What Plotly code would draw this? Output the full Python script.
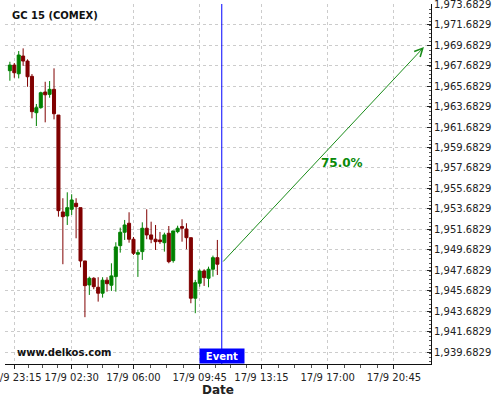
import plotly.graph_objects as go
import pandas as pd

# ---- data (15-minute candles) ----
candle_start = "2015-09-16 23:00"
open_ = [1967.18, 1967.73, 1966.88, 1968.61, 1968.12, 1966.63, 1963.08, 1963.57, 1965.10, 1964.87,
         1965.36, 1962.85, 1953.39, 1953.00, 1953.65, 1954.24, 1953.81, 1948.61, 1946.27, 1946.92,
         1946.04, 1945.46, 1946.73, 1946.24, 1947.08, 1950.10, 1951.41, 1952.29, 1950.73, 1949.26,
         1949.52, 1951.80, 1951.15, 1950.73, 1950.66, 1950.39, 1951.31, 1948.64, 1951.47, 1951.96,
         1951.73, 1950.88, 1944.97, 1946.43, 1947.63, 1946.92, 1947.80, 1948.93]
high_ = [1968.05, 1967.93, 1969.10, 1969.36, 1968.29, 1966.85, 1963.93, 1965.13, 1966.10, 1966.17,
         1967.41, 1962.85, 1954.73, 1955.31, 1955.12, 1954.73, 1953.81, 1948.61, 1947.08, 1947.02,
         1947.02, 1947.02, 1947.02, 1948.38, 1950.43, 1951.86, 1952.61, 1953.36, 1950.95, 1949.68,
         1952.38, 1953.65, 1952.44, 1952.12, 1951.44, 1951.37, 1952.02, 1951.54, 1952.05, 1952.68,
         1952.29, 1950.88, 1946.76, 1947.80, 1947.80, 1948.05, 1949.13, 1950.66]
low_ = [1966.20, 1966.49, 1966.43, 1967.66, 1965.61, 1962.53, 1961.78, 1963.47, 1962.14, 1964.54,
        1962.43, 1952.93, 1948.29, 1952.12, 1953.10, 1950.82, 1947.99, 1943.12, 1945.29, 1945.85,
        1944.64, 1945.03, 1945.61, 1945.68, 1945.61, 1949.42, 1950.66, 1950.39, 1949.19, 1947.05,
        1948.71, 1950.73, 1950.34, 1949.68, 1950.27, 1949.52, 1948.38, 1948.44, 1951.31, 1950.49,
        1949.75, 1944.48, 1943.51, 1946.10, 1946.17, 1946.04, 1947.08, 1947.24]
close_ = [1967.73, 1966.98, 1968.71, 1968.12, 1966.59, 1963.18, 1963.57, 1965.03, 1964.83, 1965.36,
          1962.98, 1953.52, 1952.93, 1953.81, 1954.56, 1953.91, 1948.61, 1946.20, 1946.92, 1946.10,
          1945.46, 1946.73, 1946.39, 1947.15, 1949.98, 1951.41, 1952.12, 1950.73, 1949.36, 1949.42,
          1951.80, 1951.15, 1950.73, 1950.49, 1950.49, 1951.15, 1948.54, 1951.54, 1951.80, 1951.80,
          1950.88, 1944.97, 1946.49, 1947.63, 1946.98, 1947.80, 1948.93, 1948.29]

tick_times = ["2015-09-16 23:15", "2015-09-17 02:30", "2015-09-17 06:00", "2015-09-17 09:45",
              "2015-09-17 13:15", "2015-09-17 17:00", "2015-09-17 20:45"]
tick_labels = ["17/9 23:15", "17/9 02:30", "17/9 06:00", "17/9 09:45",
               "17/9 13:15", "17/9 17:00", "17/9 20:45"]

event_time = "2015-09-17 11:00"
event_price = 1948.41
target_time = "2015-09-17 22:27"
target_price = 1969.49
prob_label = "75.0%"
prob_time = "2015-09-17 17:49"
prob_price = 1958.17

x_range = ["2015-09-16 22:43:24", "2015-09-17 22:51"]
y_range = [1938.55, 1973.69]
y_tick0 = 1939.6829

times = pd.date_range(candle_start, periods=len(open_), freq="15min")

# minor x ticks: quarter positions between major ticks
tt = pd.to_datetime(tick_times)
minor_x = []
for a, b in zip(tt[:-1], tt[1:]):
    for k in (1, 2, 3):
        minor_x.append(a + (b - a) * k / 4)
minor_x = [t.strftime("%Y-%m-%d %H:%M:%S") for t in minor_x]

FONT = "DejaVu Sans"
GREEN = "#008000"
RED = "#800000"
BLUE = "#0000ff"

fig = go.Figure()
fig.add_trace(go.Candlestick(
    x=times, open=open_, high=high_, low=low_, close=close_,
    increasing=dict(line=dict(color=GREEN, width=1), fillcolor=GREEN),
    decreasing=dict(line=dict(color=RED, width=1), fillcolor=RED),
    whiskerwidth=0, showlegend=False, hoverinfo="skip",
))

fig.add_shape(type="line", xref="x", yref="paper", x0=event_time, x1=event_time,
              y0=0, y1=1, line=dict(color=BLUE, width=1))

fig.add_annotation(x=target_time, y=target_price, ax=event_time, ay=event_price,
                   xref="x", yref="y", axref="x", ayref="y", text="",
                   showarrow=True, arrowhead=5, arrowsize=1.6, arrowwidth=1,
                   arrowcolor="#1a8c1a")
fig.add_annotation(x=prob_time, y=prob_price, xref="x", yref="y", text="<b>%s</b>" % prob_label,
                   showarrow=False, font=dict(family=FONT, size=12, color="#0a8a0a"))
fig.add_annotation(x=event_time, y=0, xref="x", yref="paper", yanchor="bottom",
                   text="<b>Event</b>", showarrow=False, bgcolor=BLUE, borderpad=0,
                   width=44, height=14, font=dict(family=FONT, size=10, color="white"))
fig.add_annotation(x=0.0117, y=0.969, xref="paper", yref="paper", xanchor="left",
                   yanchor="middle", text="<b>GC 15 (COMEX)</b>", showarrow=False,
                   font=dict(family=FONT, size=10, color="#111111"))
fig.add_annotation(x=0.0235, y=0.031, xref="paper", yref="paper", xanchor="left",
                   yanchor="middle", text="<b>www.delkos.com</b>", showarrow=False,
                   font=dict(family=FONT, size=10, color="#111111"))

fig.update_layout(
    width=500, height=400,
    margin=dict(l=5, r=69, t=4, b=36, autoexpand=False),
    paper_bgcolor="white", plot_bgcolor="white",
    font=dict(family=FONT, size=10, color="#222222"),
    showlegend=False, boxgap=0.02,
    xaxis=dict(
        type="date", range=x_range, rangeslider=dict(visible=False),
        automargin=False, ticklabeloverflow="allow",
        tickmode="array", tickvals=tick_times, ticktext=tick_labels,
        ticks="outside", ticklen=4, tickcolor="#222222",
        minor=dict(tickmode="array", tickvals=minor_x, ticks="outside", ticklen=3,
                   tickcolor="#555555", showgrid=False),
        showline=True, linecolor="#111111", linewidth=1,
        showgrid=True, gridcolor="#cccccc", griddash="3px,3px", gridwidth=1,
        zeroline=False,
        title=dict(text="<b>Date</b>", font=dict(family=FONT, size=12, color="#222222"),
                   standoff=2),
        tickfont=dict(family=FONT, size=10, color="#222222"),
    ),
    yaxis=dict(
        side="right", range=y_range, tickmode="linear", tick0=y_tick0, dtick=2,
        automargin=False, ticklabeloverflow="allow",
        tickformat=",.4f", ticks="inside", ticklen=4, tickcolor="#222222",
        minor=dict(dtick=0.4, ticks="inside", ticklen=2, tickcolor="#555555", showgrid=False),
        showline=True, linecolor="#111111", linewidth=1,
        showgrid=True, gridcolor="#cccccc", griddash="3px,3px", gridwidth=1,
        zeroline=False,
        tickfont=dict(family=FONT, size=10, color="#222222"),
    ),
)

fig.write_html("out.html", config={"displayModeBar": False},
               post_script="document.body.style.margin='0';")
